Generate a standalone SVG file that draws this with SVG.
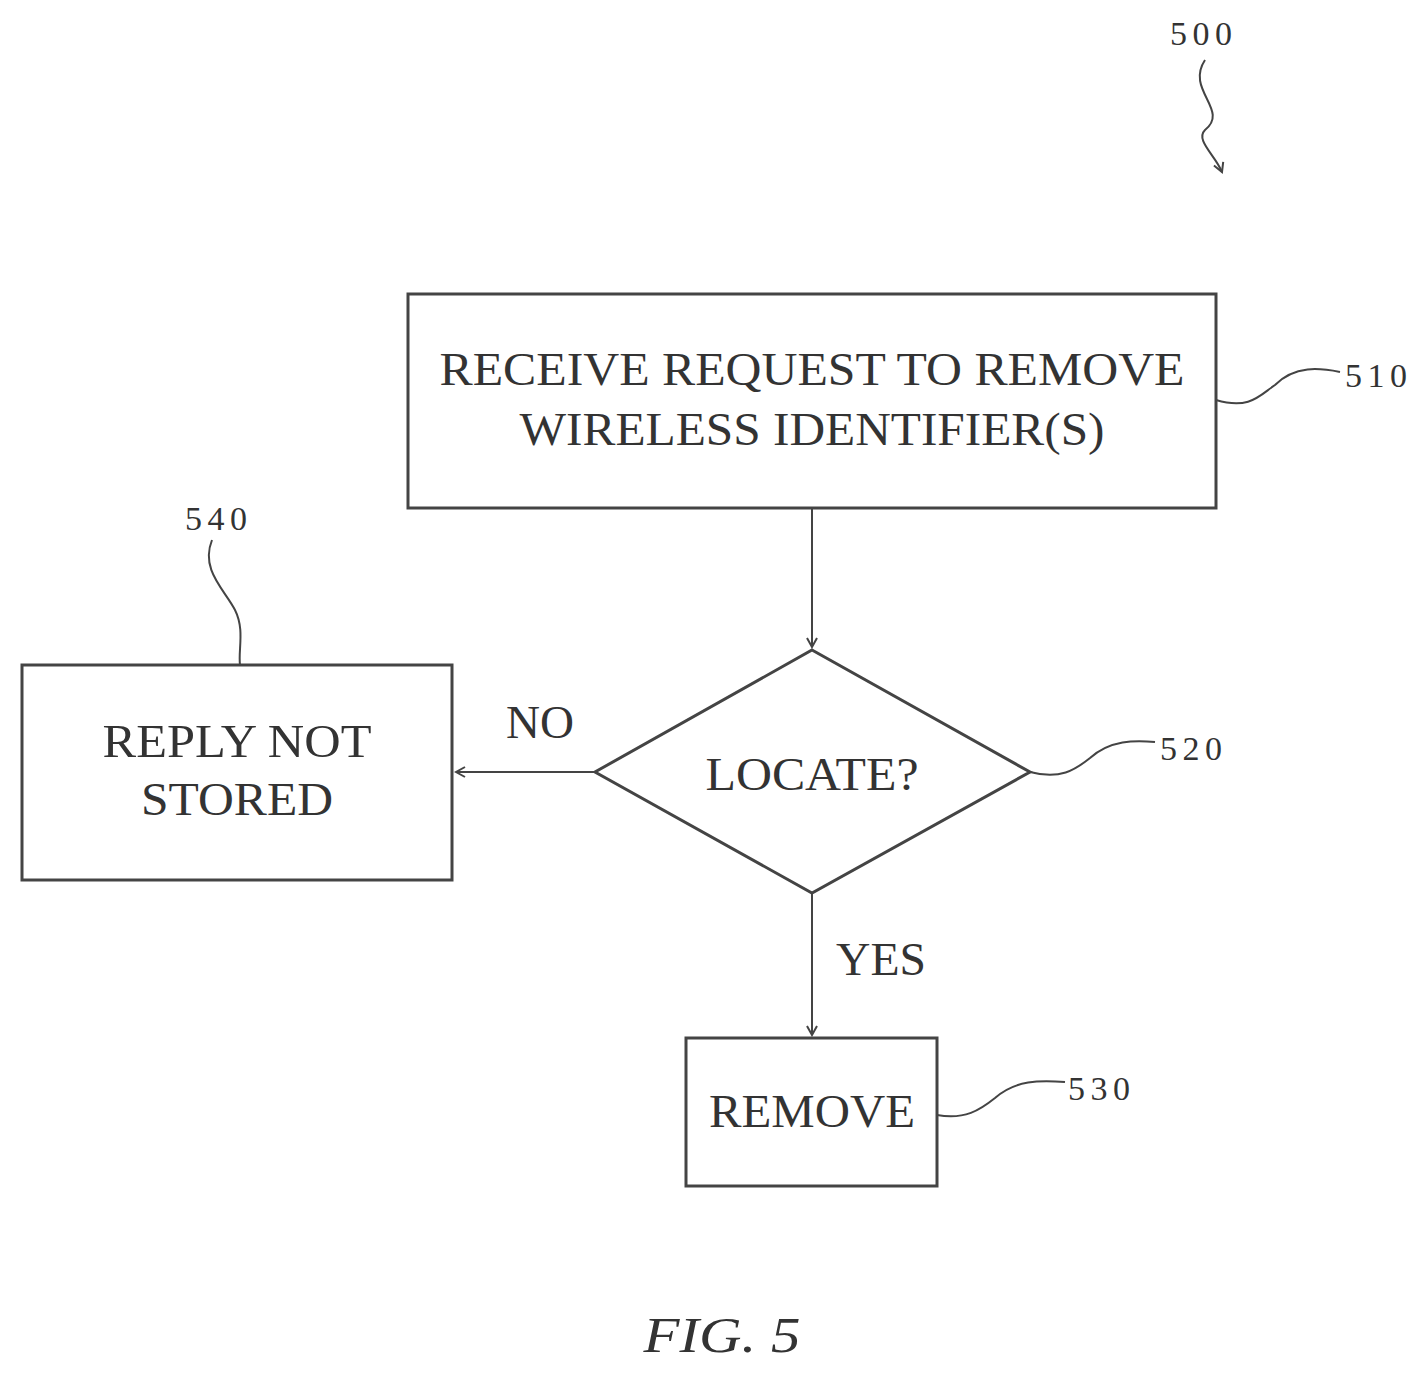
<svg xmlns="http://www.w3.org/2000/svg" width="1426" height="1374" viewBox="0 0 1426 1374">
<style>
.s{fill:none;stroke:#444;stroke-width:3}
.t{font-family:"Liberation Serif",serif;font-size:46px;fill:#333;text-anchor:middle}
.r{font-family:"Liberation Serif",serif;font-size:34px;fill:#333}
.l{fill:none;stroke:#444;stroke-width:2}
</style>
<defs><marker id="a" markerWidth="12" markerHeight="12" refX="10" refY="6" orient="auto" markerUnits="userSpaceOnUse"><path d="M1,1 L10,6 L1,11" fill="none" stroke="#444" stroke-width="2"/></marker></defs>
<rect width="1426" height="1374" fill="#fff"/>
<g id="n500"><text class="r" x="1170" y="45" textLength="62">500</text><path class="l" d="M1205,60 C1185,90 1230,110 1205,130 C1195,140 1215,155 1222,172" marker-end="url(#a)"/></g>
<g id="n510"><rect class="s" x="408" y="294" width="808" height="214"/><text class="t" x="812" y="385" textLength="745" lengthAdjust="spacingAndGlyphs">RECEIVE REQUEST TO REMOVE</text><text class="t" x="812" y="445" textLength="585" lengthAdjust="spacingAndGlyphs">WIRELESS IDENTIFIER(S)</text>
<path class="l" d="M1216,400 C1250,410 1260,395 1275,385 C1295,365 1320,368 1340,372"/><text class="r" x="1345" y="387" textLength="62">510</text></g>
<g id="n520"><polygon class="s" points="812,650 1030,772 812,893 595,772"/><text class="t" x="812" y="790" textLength="213" lengthAdjust="spacingAndGlyphs">LOCATE?</text>
<path class="l" d="M1030,772 C1060,780 1075,770 1090,758 C1110,740 1135,740 1155,742"/><text class="r" x="1160" y="760" textLength="62">520</text></g>
<g id="n540"><rect class="s" x="22" y="665" width="430" height="215"/><text class="t" x="237" y="757" textLength="269" lengthAdjust="spacingAndGlyphs">REPLY NOT</text><text class="t" x="237" y="815" textLength="192" lengthAdjust="spacingAndGlyphs">STORED</text>
<text class="r" x="185" y="530" textLength="62">540</text><path class="l" d="M212,540 C200,570 225,590 235,610 C245,630 238,650 240,665"/></g>
<g id="n530"><rect class="s" x="686" y="1038" width="251" height="148"/><text class="t" x="812" y="1127" textLength="206" lengthAdjust="spacingAndGlyphs">REMOVE</text>
<path class="l" d="M937,1115 C965,1120 980,1110 995,1098 C1015,1080 1040,1080 1065,1082"/><text class="r" x="1068" y="1100" textLength="62">530</text></g>
<g id="connectors">
<path class="l" d="M812,508 L812,647" marker-end="url(#a)"/>
<path class="l" d="M595,772 L456,772" marker-end="url(#a)"/>
<path class="l" d="M812,893 L812,1035" marker-end="url(#a)"/>
<text class="t" x="540" y="738" textLength="68" lengthAdjust="spacingAndGlyphs">NO</text>
<text class="t" x="881" y="975" textLength="90" lengthAdjust="spacingAndGlyphs">YES</text>
</g>
<text x="722" y="1352" font-family="Liberation Serif,serif" font-style="italic" font-size="50" fill="#333" text-anchor="middle" textLength="157" lengthAdjust="spacingAndGlyphs">FIG. 5</text>
</svg>
